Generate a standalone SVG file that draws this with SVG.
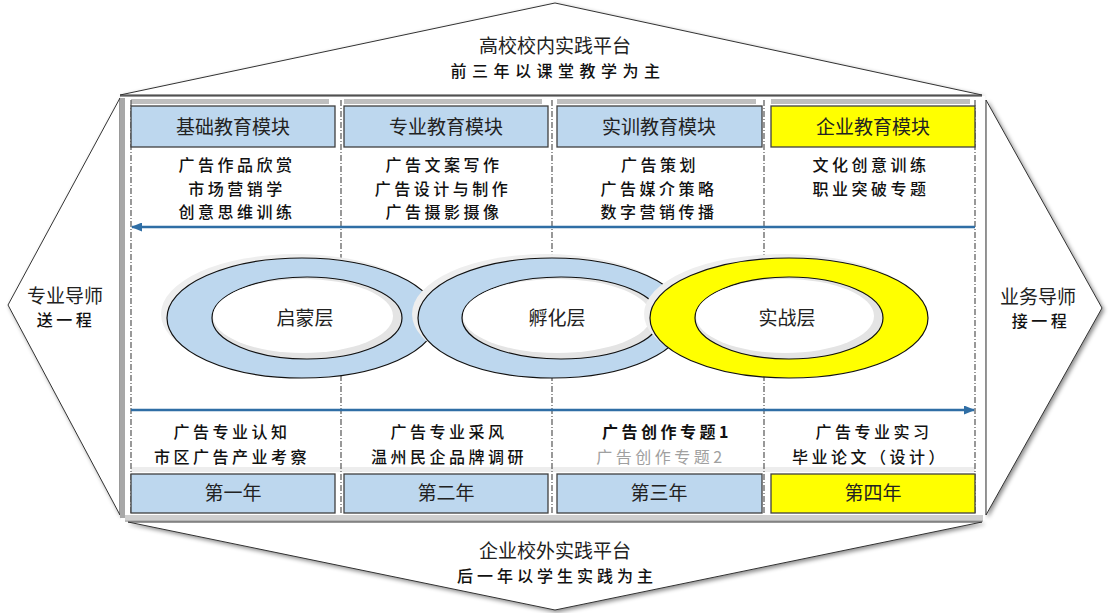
<svg xmlns="http://www.w3.org/2000/svg" width="1110" height="613" viewBox="0 0 1110 613">
<defs>
<filter id="sh" x="-10%" y="-10%" width="120%" height="130%"><feDropShadow dx="2" dy="2" stdDeviation="2" flood-color="#000" flood-opacity="0.45"/></filter>
<marker id="ar" markerWidth="11" markerHeight="9" refX="10" refY="4.5" orient="auto" markerUnits="userSpaceOnUse"><path d="M0,0 L11,4.5 L0,9 Z" fill="#2F6EA5"/></marker>
<style>
.frame{fill:#fff;stroke:#333;stroke-width:1}
.hb{fill:#BDD7EE;stroke:#404040;stroke-width:1.3}
.hy{fill:#FFFF00;stroke:#404040;stroke-width:1.3}
.gbar{fill:#BFBFBF}
.dl{stroke:#555;stroke-width:1.2;stroke-dasharray:6,2,1,2;fill:none}
.arrow{stroke:#2F6EA5;stroke-width:2.5;fill:none}
.t19{font-family:"Noto Sans CJK SC","Noto Sans",sans-serif;font-size:19px;fill:#222;text-anchor:middle}
.k{font-family:"Noto Sans CJK SC","Noto Sans",sans-serif;font-size:16px;fill:#111;text-anchor:middle;letter-spacing:3.5px;font-weight:500}
.ks{font-family:"Noto Sans CJK SC","Noto Sans",sans-serif;font-size:16px;fill:#111;text-anchor:middle;letter-spacing:5.5px;font-weight:500}
.rb{fill:#BDD7EE;stroke:#111;stroke-width:1.2}
.ry{fill:#FFFF00;stroke:#111;stroke-width:1.2}
.hole{fill:#E4E4E4;stroke:#111;stroke-width:1.2}
</style>
</defs>

<g id="outer">
<polygon class="frame" points="120,95 555,3 982,95" filter="url(#sh)"/>
<polygon class="frame" points="120,98 8,305 120,515" filter="url(#sh)"/>
<polygon class="frame" points="986,100 1102,308 986,515" filter="url(#sh)"/>
<polygon class="frame" points="128,522 555,610 982,522" filter="url(#sh)"/>
</g>

<g id="panel">
<rect x="121" y="96" width="864" height="424" fill="#fff"/>
<line x1="120" y1="96" x2="982" y2="96" stroke="#333" stroke-width="1"/>
<rect x="120" y="98" width="5" height="420" fill="#A8A8A8"/>
<rect x="125" y="515" width="858" height="5" fill="#CFCFCF"/>
<line x1="125" y1="521" x2="983" y2="521" stroke="#777" stroke-width="1"/>
<rect x="131" y="467" width="844" height="5" fill="#EDEDED"/>
<rect x="131" y="99" width="198" height="5" class="gbar"/>
<rect x="344" y="99" width="198" height="5" class="gbar"/>
<rect x="557" y="99" width="199" height="5" class="gbar"/>
<rect x="771" y="99" width="199" height="5" class="gbar"/>
<line class="dl" x1="131" y1="100" x2="131" y2="515"/>
<line class="dl" x1="341" y1="100" x2="341" y2="515"/>
<line class="dl" x1="552" y1="100" x2="552" y2="515"/>
<line class="dl" x1="764" y1="100" x2="764" y2="515"/>
<line class="dl" x1="975" y1="100" x2="975" y2="515"/>
</g>

<g id="top-platform">
<text class="t19" x="555" y="53">高校校内实践平台</text>
<text class="ks" x="558" y="77">前三年以课堂教学为主</text>
</g>
<g id="bottom-platform">
<text class="t19" x="555" y="558">企业校外实践平台</text>
<text class="k" x="557" y="582" style="letter-spacing:4px">后一年以学生实践为主</text>
</g>
<g id="left-mentor">
<text class="t19" x="65" y="303">专业导师</text>
<text class="k" x="66" y="326">送一程</text>
</g>
<g id="right-mentor">
<text class="t19" x="1038" y="304">业务导师</text>
<text class="k" x="1041" y="327">接一程</text>
</g>

<g id="module-1">
<rect class="hb" x="131" y="106" width="204" height="41"/>
<text class="t19" x="233" y="134">基础教育模块</text>
<text class="k" x="237" y="171">广告作品欣赏</text>
<text class="k" x="237" y="195">市场营销学</text>
<text class="k" x="237" y="218">创意思维训练</text>
</g>
<g id="module-2">
<rect class="hb" x="344" y="106" width="204" height="41"/>
<text class="t19" x="446" y="134">专业教育模块</text>
<text class="k" x="444" y="171">广告文案写作</text>
<text class="k" x="443" y="195">广告设计与制作</text>
<text class="k" x="444" y="218">广告摄影摄像</text>
</g>
<g id="module-3">
<rect class="hb" x="557" y="106" width="205" height="41"/>
<text class="t19" x="659" y="134">实训教育模块</text>
<text class="k" x="660" y="171">广告策划</text>
<text class="k" x="659" y="195">广告媒介策略</text>
<text class="k" x="659" y="218">数字营销传播</text>
</g>
<g id="module-4">
<rect class="hy" x="771" y="106" width="204" height="41"/>
<text class="t19" x="873" y="134">企业教育模块</text>
<text class="k" x="871" y="171">文化创意训练</text>
<text class="k" x="871" y="195">职业突破专题</text>
</g>

<g id="connectors">
<line class="arrow" x1="975" y1="227" x2="132" y2="227" marker-end="url(#ar)"/>
<line class="arrow" x1="131" y1="410" x2="974" y2="410" marker-end="url(#ar)"/>
</g>

<g id="ring-1">
<ellipse cx="296" cy="314" rx="135" ry="60" fill="#EEEEEE"/>
<ellipse class="rb" cx="302" cy="318" rx="135" ry="60"/>
<ellipse class="hole" cx="307" cy="318" rx="95" ry="41"/>
<ellipse cx="303" cy="316" rx="90" ry="37" fill="#fff"/>
<text class="t19" x="305" y="325">启蒙层</text>
</g>
<g id="ring-2">
<ellipse cx="546" cy="314" rx="134" ry="60" fill="#EEEEEE"/>
<ellipse class="rb" cx="552" cy="318" rx="134" ry="60"/>
<ellipse class="hole" cx="561" cy="318" rx="99" ry="41"/>
<ellipse cx="557" cy="316" rx="94" ry="37" fill="#fff"/>
<text class="t19" x="557" y="325">孵化层</text>
</g>
<g id="ring-3">
<ellipse cx="783" cy="314" rx="139" ry="60" fill="#EEEEEE"/>
<ellipse class="ry" cx="789" cy="318" rx="139" ry="60"/>
<ellipse class="hole" cx="789" cy="318" rx="94" ry="41"/>
<ellipse cx="785" cy="316" rx="89" ry="37" fill="#fff"/>
<text class="t19" x="787" y="325">实战层</text>
</g>

<g id="year-1">
<text class="k" x="232" y="438">广告专业认知</text>
<text class="k" x="232" y="463">市区广告产业考察</text>
<rect class="hb" x="131" y="474" width="204" height="39"/>
<text class="t19" x="233" y="500">第一年</text>
</g>
<g id="year-2">
<text class="k" x="449" y="438">广告专业采风</text>
<text class="k" x="449" y="463">温州民企品牌调研</text>
<rect class="hb" x="344" y="474" width="204" height="39"/>
<text class="t19" x="446" y="500">第二年</text>
</g>
<g id="year-3">
<text class="k" x="667" y="438" style="font-weight:700">广告创作专题1</text>
<text class="k" x="661" y="463" style="fill:#A0A0A0;font-weight:400">广告创作专题2</text>
<rect class="hb" x="557" y="474" width="205" height="39"/>
<text class="t19" x="659" y="500">第三年</text>
</g>
<g id="year-4">
<text class="k" x="874" y="438">广告专业实习</text>
<text class="k" x="870" y="463">毕业论文（设计）</text>
<rect class="hy" x="771" y="474" width="204" height="39"/>
<text class="t19" x="873" y="500">第四年</text>
</g>
</svg>
